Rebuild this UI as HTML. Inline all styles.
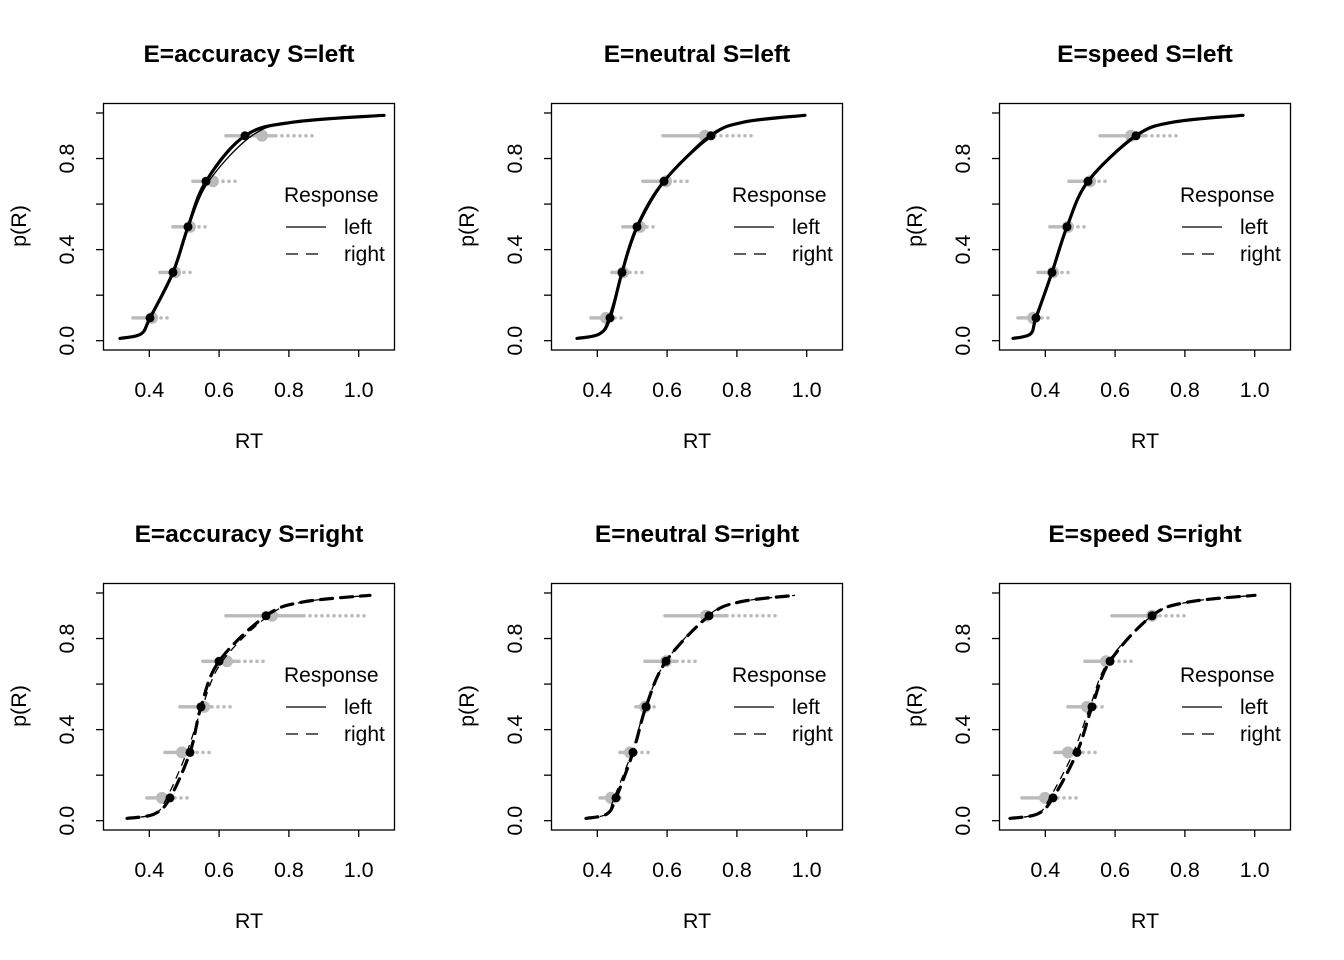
<!DOCTYPE html>
<html><head><meta charset="utf-8"><style>
body{margin:0;background:#fff}
svg{display:block;font-family:"Liberation Sans",Arial,sans-serif}
</style></head><body>
<svg id="s" width="1344" height="960" xmlns="http://www.w3.org/2000/svg"></svg>
<script>
const P=[
 {ox:0,oy:0,t:"E=accuracy S=left",d:[150,173,188,206,245],st:120,en:384,g:[152,175,190,213,262],gs:[[133,170],[160,191],[173,207],[193,236],[226,316]],dash:false},
 {ox:448,oy:0,t:"E=neutral S=left",d:[162,174,189,216,263],st:129,en:357,g:[158,175,192,218,257],gs:[[143,174],[164,194],[175,207],[195,242],[215,308]],dash:false},
 {ox:896,oy:0,t:"E=speed S=left",d:[140,156,171,192,240],st:117,en:347,g:[137,157,172,194,235],gs:[[122,153],[142,172],[154,192],[173,214],[204,285]],dash:false},
 {ox:0,oy:480,t:"E=accuracy S=right",d:[170,190,201,219,266],st:127,en:370,g:[162,182,204,227,272],gs:[[147,187],[165,209],[180,235],[203,267],[226,366]],dash:true},
 {ox:448,oy:480,t:"E=neutral S=right",d:[168,185,198,218,261],st:138,en:347,g:[163,182,197,218,258],gs:[[152,177],[172,200],[188,208],[197,252],[217,329]],dash:true},
 {ox:896,oy:480,t:"E=speed S=right",d:[157,181,196,214,256],st:114,en:359,g:[149,172,191,210,256],gs:[[126,180],[159,199],[172,209],[189,237],[216,290]],dash:true}
];
const ps=[0.1,0.3,0.5,0.7,0.9];
const Y=p=>340.7-227.7*p;
let h='';
function cr(pts){let s='M'+pts[0][0]+','+pts[0][1];for(let i=0;i<pts.length-1;i++){const p0=pts[i-1]||pts[i],p1=pts[i],p2=pts[i+1],p3=pts[i+2]||p2;s+=` C${(p1[0]+(p2[0]-p0[0])/6).toFixed(1)},${(p1[1]+(p2[1]-p0[1])/6).toFixed(1)} ${(p2[0]-(p3[0]-p1[0])/6).toFixed(1)},${(p2[1]-(p3[1]-p1[1])/6).toFixed(1)} ${p2[0].toFixed(1)},${p2[1].toFixed(1)}`;}return s;}
for(const q of P){
 h+=`<g transform="translate(${q.ox},${q.oy})">`;
 h+=`<text x="249" y="62" font-size="24.5" font-weight="bold" text-anchor="middle">${q.t}</text>`;
 h+=`<rect x="103.5" y="103.5" width="291" height="246.5" fill="none" stroke="#000" stroke-width="1.3"/>`;
 [0.4,0.6,0.8,1.0].forEach(v=>{const x=149.3+(v-0.4)*349;h+=`<line x1="${x}" y1="350" x2="${x}" y2="357" stroke="#000" stroke-width="1.3"/><text x="${x}" y="397" font-size="21.5" text-anchor="middle">${v.toFixed(1)}</text>`;});
 [0,0.2,0.4,0.6,0.8,1.0].forEach(v=>{const y=Y(v);h+=`<line x1="96" y1="${y}" x2="103.5" y2="${y}" stroke="#000" stroke-width="1.3"/>`;});
 [0,0.4,0.8].forEach(v=>{const y=Y(v);h+=`<text transform="translate(74,${y}) rotate(-90)" font-size="21.5" text-anchor="middle">${v.toFixed(1)}</text>`;});
 h+=`<text transform="translate(26,226) rotate(-90)" font-size="21.5" text-anchor="middle">p(R)</text>`;
 h+=`<text x="249" y="448" font-size="21.5" text-anchor="middle">RT</text>`;
 q.gs.forEach((r,i)=>{const y=Y(ps[i]);for(let x=r[0];x<=r[1];x+=(x<r[0]+(r[1]-r[0])*0.55?2:6)){h+=`<circle cx="${x}" cy="${y}" r="1.8" fill="#bbb"/>`;}h+=`<circle cx="${q.g[i]}" cy="${y}" r="6" fill="#bbb"/>`;});
 const mid=(a,b)=>a+(b-a)*0.5;
 const pts=[[q.st,Y(0.01)],[mid(q.st,q.d[0])+6,Y(0.03)],...q.d.map((x,i)=>[x,Y(ps[i])]),[q.d[4]+(q.en-q.d[4])*0.35,Y(0.96)],[q.en,Y(0.99)]];
 const pts2=pts.map((p,i)=>[p[0]+(i>1&&i<7?(q.g[i-2]-q.d[i-2])*0.4:0),p[1]]);
 const da=q.dash?' stroke-dasharray="12,8"':'';
 h+=`<path d="${cr(pts)}" fill="none" stroke="#000" stroke-width="3.2"${da} stroke-linecap="round"/>`;
 h+=`<path d="${cr(pts2)}" fill="none" stroke="#000" stroke-width="1.3"${q.dash?' stroke-dasharray="8,6"':''}/>`;
 q.d.forEach((x,i)=>{h+=`<circle cx="${x}" cy="${Y(ps[i])}" r="4.5" fill="#000"/>`;});
 h+=`<text x="284" y="202" font-size="21" >Response</text>`;
 h+=`<line x1="286" y1="227" x2="326" y2="227" stroke="#000" stroke-width="1.3"/><text x="344" y="234" font-size="21">left</text>`;
 h+=`<line x1="286" y1="254" x2="326" y2="254" stroke="#000" stroke-width="1.3" stroke-dasharray="12,8"/><text x="344" y="261" font-size="21">right</text>`;
 h+='</g>';
}
document.getElementById('s').innerHTML=h;
</script>
</body></html>
